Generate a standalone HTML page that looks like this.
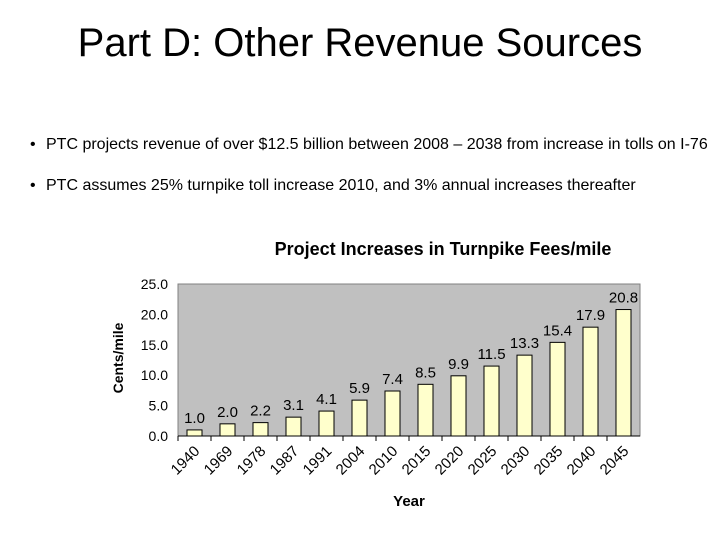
<!DOCTYPE html>
<html><head><meta charset="utf-8"><style>
body{margin:0;width:720px;height:540px;background:#fff;font-family:"Liberation Sans",sans-serif;overflow:hidden;position:relative}
.t{position:absolute;left:0;width:720px;text-align:center;top:21px;font-size:40px}
.b{position:absolute;left:30px;font-size:16px}
.b span{position:absolute;left:16px;white-space:nowrap}
</style></head><body>
<div class="t">Part D: Other Revenue Sources</div>
<div class="b" style="top:136px">•<span>PTC projects revenue of over $12.5 billion between 2008 – 2038 from increase in tolls on I-76</span></div>
<div class="b" style="top:177px">•<span>PTC assumes 25% turnpike toll increase 2010, and 3% annual increases thereafter</span></div>
<svg id="c" width="720" height="540" style="position:absolute;left:0;top:0"></svg>
<script>
const categories=["1940","1969","1978","1987","1991","2004","2010","2015","2020","2025","2030","2035","2040","2045"];
const values=[1.0,2.0,2.2,3.1,4.1,5.9,7.4,8.5,9.9,11.5,13.3,15.4,17.9,20.8];
const yTicks=[0,5,10,15,20,25];
const svg=document.getElementById('c');const NS='http://www.w3.org/2000/svg';
const L=178,R=640,T=284,B=436;
const y=v=>B-(v/25)*(B-T);
const cw=(R-L)/categories.length;
const x=i=>L+cw*(i+0.5);
function mk(t,a,txt){const e=document.createElementNS(NS,t);for(const k in a)e.setAttribute(k,a[k]);if(txt!=null)e.textContent=txt;svg.appendChild(e);return e;}
let e=mk('text',{x:443,y:255,'text-anchor':'middle','font-size':18,'font-weight':'bold'},'Project Increases in Turnpike Fees/mile');


e=mk('rect',{x:L,y:T,width:R-L,height:B-T,fill:'#c0c0c0',stroke:'#808080'});


yTicks.forEach(v=>{e=mk('text',{x:L-10,y:y(v)+5,'text-anchor':'end','font-size':14},v.toFixed(1));

});
e=mk('text',{x:123,y:358,'text-anchor':'middle','font-size':14,'font-weight':'bold',transform:'rotate(-90 123 358)'},'Cents/mile');


mk('line',{x1:L,y1:B,x2:R,y2:B,stroke:'#000'});
categories.forEach((c,i)=>{
 mk('line',{x1:L+cw*i,y1:B,x2:L+cw*i,y2:B+5,stroke:'#000'});
 e=mk('rect',{x:x(i)-7.5,y:y(values[i]),width:15,height:B-y(values[i]),fill:'#ffffcc',stroke:'#000'});
 
 
 e=mk('text',{x:x(i),y:y(values[i])-7,'text-anchor':'middle','font-size':15},values[i].toFixed(1));
 
 
 const lx=x(i)+6,ly=B+16;
 e=mk('text',{x:lx,y:ly,'text-anchor':'end','font-size':15,transform:`rotate(-45 ${lx} ${ly})`},c);
 
 
});
e=mk('text',{x:409,y:506,'text-anchor':'middle','font-size':15,'font-weight':'bold'},'Year');


</script>
</body></html>
